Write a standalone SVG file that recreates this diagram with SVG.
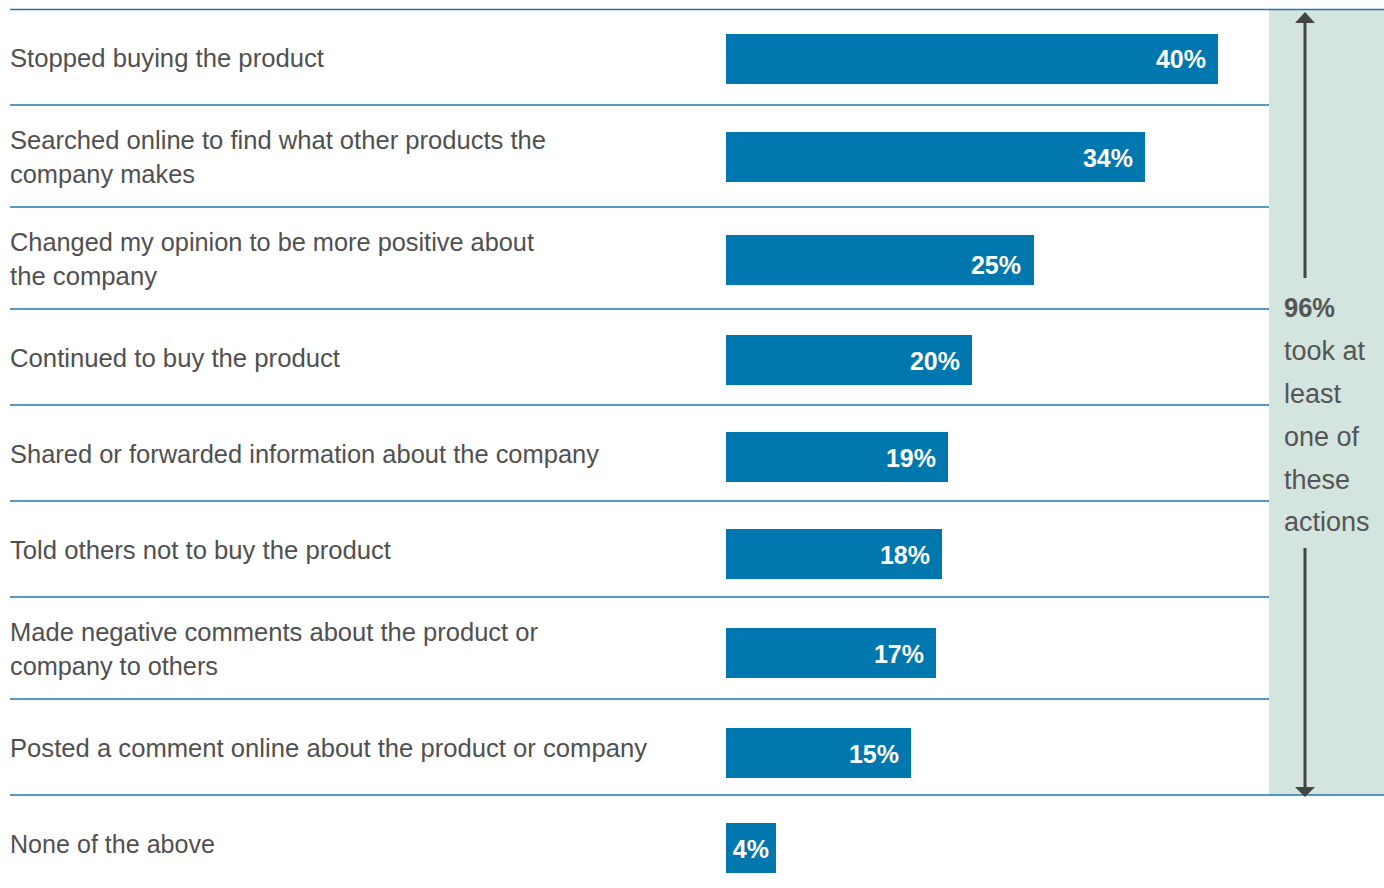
<svg xmlns="http://www.w3.org/2000/svg" width="1384" height="888" viewBox="0 0 1384 888">
<style>
.lbl{font-family:"Liberation Sans",Arial,sans-serif;font-size:25px;fill:#505050}
.val{font-family:"Liberation Sans",Arial,sans-serif;font-size:25px;font-weight:bold;fill:#ffffff;text-anchor:end}
.bar{fill:#0077ae}
.rule{stroke:#2277a8;stroke-width:1.6;fill:none}
.side{font-family:"Liberation Sans",Arial,sans-serif;font-size:27px;fill:#555555}
.arr{stroke:#444444;stroke-width:3}
.head{fill:#444444}
</style>
<rect id="panel" x="1269" y="9" width="115" height="786" fill="#d4e4de"/>
<g id="rules">
<line class="rule" x1="10" y1="9.5" x2="1384" y2="9.5"/>
<line class="rule" x1="10" y1="105" x2="1269" y2="105"/>
<line class="rule" x1="10" y1="207" x2="1269" y2="207"/>
<line class="rule" x1="10" y1="309" x2="1269" y2="309"/>
<line class="rule" x1="10" y1="405" x2="1269" y2="405"/>
<line class="rule" x1="10" y1="501" x2="1269" y2="501"/>
<line class="rule" x1="10" y1="597" x2="1269" y2="597"/>
<line class="rule" x1="10" y1="699" x2="1269" y2="699"/>
<line class="rule" x1="10" y1="795" x2="1384" y2="795"/>
</g>
<g id="row1">
<text class="lbl" x="10" y="67" textLength="314" lengthAdjust="spacingAndGlyphs">Stopped buying the product</text>
<rect class="bar" x="726" y="34" width="492" height="50"/>
<text class="val" x="1206" y="68">40%</text>
</g>
<g id="row2">
<text class="lbl" x="10" y="149" textLength="536" lengthAdjust="spacingAndGlyphs">Searched online to find what other products the</text>
<text class="lbl" x="10" y="183" textLength="185" lengthAdjust="spacingAndGlyphs">company makes</text>
<rect class="bar" x="726" y="132" width="419" height="50"/>
<text class="val" x="1133" y="167">34%</text>
</g>
<g id="row3">
<text class="lbl" x="10" y="251" textLength="524" lengthAdjust="spacingAndGlyphs">Changed my opinion to be more positive about</text>
<text class="lbl" x="10" y="285" textLength="147" lengthAdjust="spacingAndGlyphs">the company</text>
<rect class="bar" x="726" y="235" width="308" height="50"/>
<text class="val" x="1021" y="274">25%</text>
</g>
<g id="row4">
<text class="lbl" x="10" y="367" textLength="330" lengthAdjust="spacingAndGlyphs">Continued to buy the product</text>
<rect class="bar" x="726" y="335" width="246" height="50"/>
<text class="val" x="960" y="370">20%</text>
</g>
<g id="row5">
<text class="lbl" x="10" y="463" textLength="589" lengthAdjust="spacingAndGlyphs">Shared or forwarded information about the company</text>
<rect class="bar" x="726" y="432" width="222" height="50"/>
<text class="val" x="936" y="467">19%</text>
</g>
<g id="row6">
<text class="lbl" x="10" y="559" textLength="381" lengthAdjust="spacingAndGlyphs">Told others not to buy the product</text>
<rect class="bar" x="726" y="529" width="216" height="50"/>
<text class="val" x="930" y="564">18%</text>
</g>
<g id="row7">
<text class="lbl" x="10" y="641" textLength="528" lengthAdjust="spacingAndGlyphs">Made negative comments about the product or</text>
<text class="lbl" x="10" y="675" textLength="208" lengthAdjust="spacingAndGlyphs">company to others</text>
<rect class="bar" x="726" y="628" width="210" height="50"/>
<text class="val" x="924" y="663">17%</text>
</g>
<g id="row8">
<text class="lbl" x="10" y="757" textLength="637" lengthAdjust="spacingAndGlyphs">Posted a comment online about the product or company</text>
<rect class="bar" x="726" y="728" width="185" height="50"/>
<text class="val" x="899" y="763">15%</text>
</g>
<g id="row9">
<text class="lbl" x="10" y="853" textLength="205" lengthAdjust="spacingAndGlyphs">None of the above</text>
<rect class="bar" x="726" y="823" width="50" height="50"/>
<text class="val" x="769" y="858">4%</text>
</g>
<g id="summary">
<text class="side" x="1284" y="317" font-weight="bold" textLength="51" lengthAdjust="spacingAndGlyphs">96%</text>
<text class="side" x="1284" y="360">took at</text>
<text class="side" x="1284" y="403">least</text>
<text class="side" x="1284" y="446">one of</text>
<text class="side" x="1284" y="489">these</text>
<text class="side" x="1284" y="531">actions</text>
</g>
<g id="connectors">
<line class="arr" x1="1305" y1="22" x2="1305" y2="278"/>
<path class="head" d="M1295,23 L1315,23 L1305,12 Z"/>
<line class="arr" x1="1305" y1="548" x2="1305" y2="788"/>
<path class="head" d="M1295,787 L1315,787 L1305,797 Z"/>
</g>
</svg>
